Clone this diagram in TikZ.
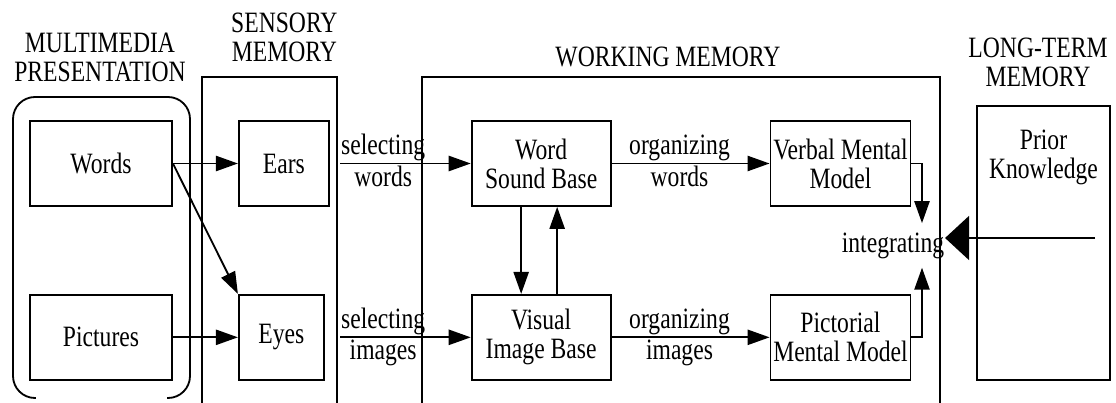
\documentclass[tikz,border=0pt]{standalone}
\usepackage{fontspec}
\setmainfont{Liberation Serif}[FakeStretch=0.8]
\usetikzlibrary{arrows.meta,positioning}

\begin{document}
\begin{tikzpicture}[line width=1.3pt,
    every node/.style={font=\fontsize{21}{20.6}\selectfont, align=center, inner sep=1pt},
    membox/.style={draw, minimum height=2.125cm},
    arr/.style={-{Triangle[length=0.55cm,width=0.38cm]}}]
    \useasboundingbox (0,0) rectangle (27.9,-10.075);

    % group titles
    \node[anchor=south] (mmtitle) at (2.5,-2.11) {MULTIMEDIA\\PRESENTATION};
    \node[anchor=south] (smtitle) at (7.11,-1.61) {SENSORY\\MEMORY};
    \node[anchor=south] (wmtitle) at (16.7,-1.735) {WORKING MEMORY};
    \node[anchor=south] (lttitle) at (25.95,-2.235) {LONG-TERM\\MEMORY};

    % group frames, open at the bottom
    \draw[rounded corners=0.55cm] (0.9,-9.95) -- (0.325,-9.95) -- (0.325,-2.425) -- (4.75,-2.425) -- (4.75,-9.95) -- (4.175,-9.95);
    \draw (5.05,-10.075) |- (8.425,-1.925) -- (8.425,-10.075);
    \draw (10.55,-10.075) |- (23.5,-1.925) -- (23.5,-10.075);

    \node[membox, minimum width=3.55cm] (words) at (2.525,-4.0875) {Words};
    \node[membox, minimum width=3.55cm, below=2.175cm of words] (pictures) {Pictures};
    \node[membox, minimum width=2.25cm, right=1.625cm of words] (ears) {Ears};
    \node[membox, minimum width=2.125cm, right=1.625cm of pictures] (eyes) {Eyes};
    \node[membox, minimum width=3.475cm, right=3.525cm of ears] (wsb) {Word\\Sound Base};
    \node[membox, minimum width=3.475cm, below=2.175cm of wsb] (vib) {Visual\\Image Base};
    \node[membox, minimum width=3.5cm, right=3.95cm of wsb] (vmm) {Verbal Mental\\Model};
    \node[membox, minimum width=3.5cm, below=2.175cm of vmm] (pmm) {Pictorial\\Mental Model};
    \node[draw, minimum width=3.325cm, minimum height=6.85cm] (ltm) at (26.0875,-6.075) {};
    \node[below=0.565cm of ltm.north] (prior) {Prior\\Knowledge};
    \node[inner ysep=6pt, inner xsep=0pt, anchor=base] (integ) at (22.325,-6.3) {integrating};

    \coordinate (selw) at (8.5,0 |- ears.east);
    \coordinate (seli) at (8.5,0 |- eyes.east);
    \coordinate (pkstart) at (27.375,-5.95);

    \draw[arr] (words.east) -- (ears.west);
    \draw[arr] (words.east) -- (eyes.north west);
    \draw[arr] (pictures.east) -- (eyes.west);
    \draw[arr] (selw) -- (wsb.west) node[pos=0.33, above] (selwtop) {selecting} node[pos=0.33, below] (selwbot) {words};
    \draw[arr] (seli) -- (vib.west) node[pos=0.33, above] (selitop) {selecting} node[pos=0.33, below] (selibot) {images};
    \draw[arr] (wsb.east) -- (vmm.west) node[pos=0.43, above] (orgwtop) {organizing} node[pos=0.43, below] (orgwbot) {words};
    \draw[arr] (vib.east) -- (pmm.west) node[pos=0.43, above] (orgitop) {organizing} node[pos=0.43, below] (orgibot) {images};
    \draw[arr] ([xshift=-0.5cm]wsb.south) -- ([xshift=-0.5cm]vib.north);
    \draw[arr] ([xshift=0.4cm]vib.north) -- ([xshift=0.4cm]wsb.south);
    \draw[arr] (vmm.east) -| ([xshift=0.725cm]integ.north);
    \draw[arr] (pmm.east) -| ([xshift=0.725cm]integ.south);
    \draw[-{Triangle[length=0.6cm,width=1.1cm]}] (pkstart) -- (pkstart -| integ.east);
\end{tikzpicture}
\end{document}
